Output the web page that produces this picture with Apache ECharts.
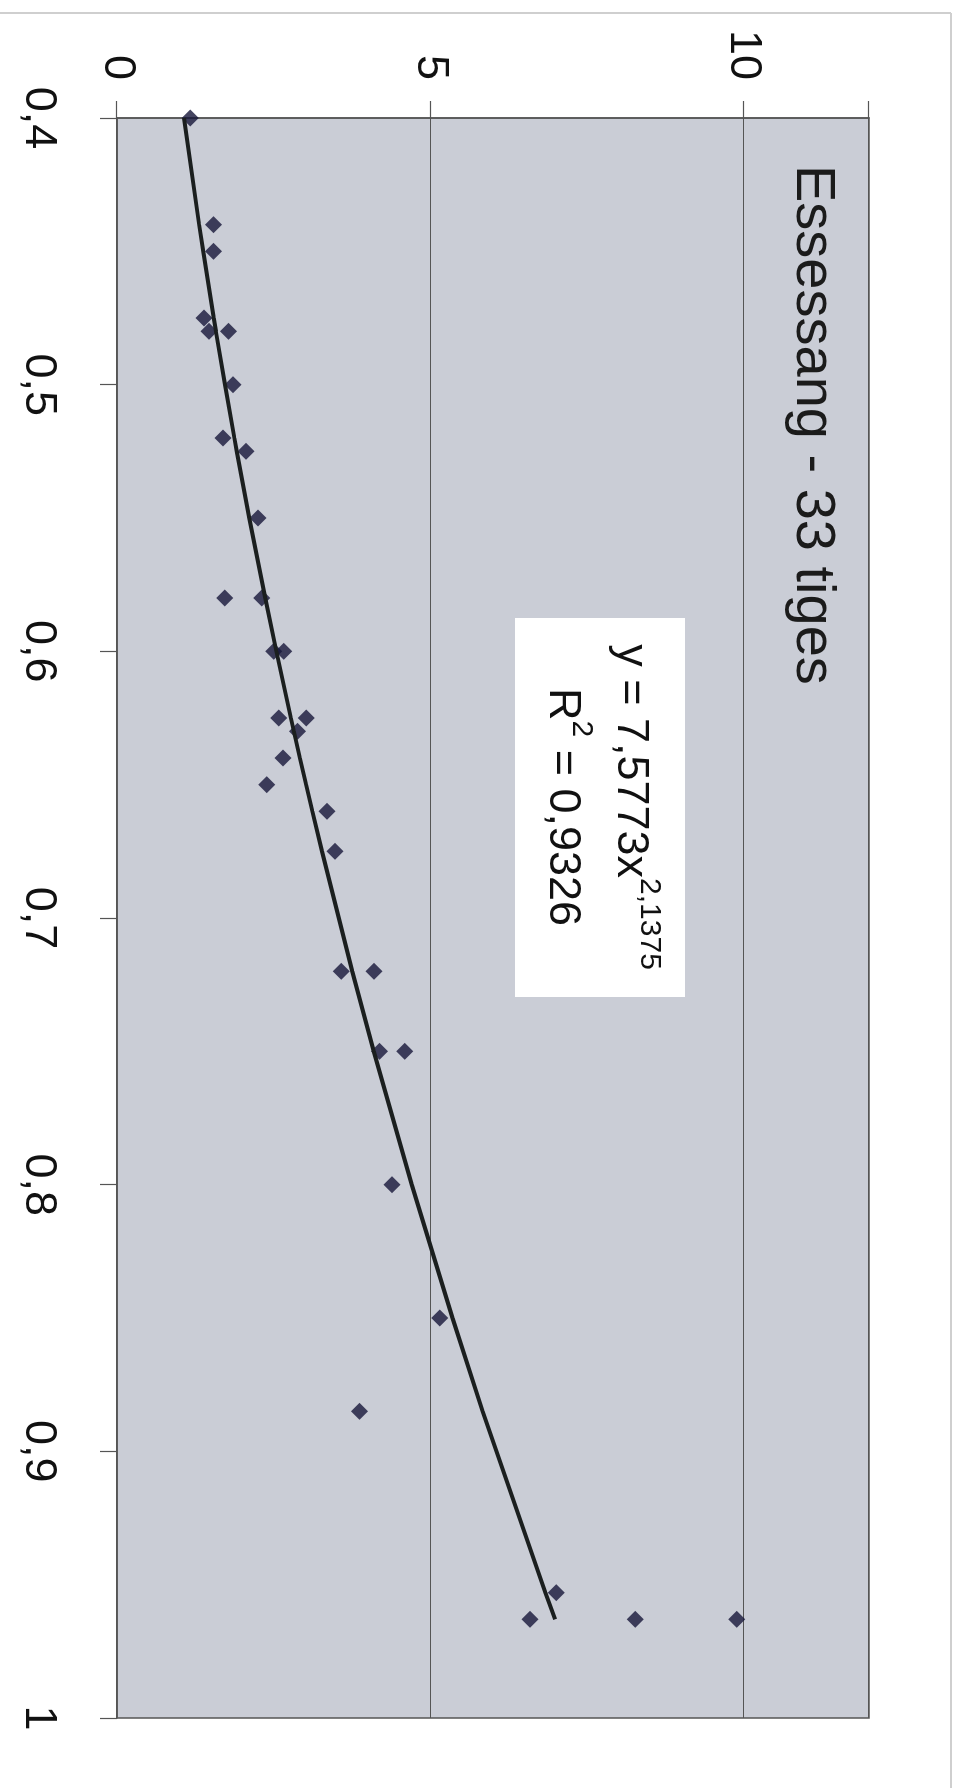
<!DOCTYPE html>
<html>
<head>
<meta charset="utf-8">
<script src="https://cdn.jsdelivr.net/npm/echarts@6/dist/echarts.min.js"></script>
<style>
  html, body { margin: 0; padding: 0; background: #fff; overflow: hidden; }
  #wrap { position: relative; width: 961px; height: 1788px; overflow: hidden; background: #fff; }
  #chart { position: absolute; left: 0; top: 0; width: 1788px; height: 961px;
           transform-origin: 0 0; transform: translateX(961px) rotate(90deg); }
</style>
</head>
<body>
<div id="wrap"><div id="chart"></div></div>
<script>
// ---- data ----
const titleText = 'Essessang - 33 tiges';
const diameters = [0.400, 0.440, 0.450, 0.475, 0.480, 0.480, 0.500, 0.520, 0.525, 0.550,
                   0.580, 0.580, 0.600, 0.600, 0.625, 0.625, 0.630, 0.640, 0.650, 0.660,
                   0.675, 0.720, 0.720, 0.750, 0.750, 0.800, 0.850, 0.885, 0.953, 0.963,
                   0.963, 0.963];
const volumes   = [1.17, 1.54, 1.54, 1.39, 1.47, 1.78, 1.85, 1.69, 2.06, 2.25,
                   1.72, 2.31, 2.50, 2.66, 2.58, 3.02, 2.88, 2.65, 2.39, 3.35,
                   3.48, 3.58, 4.10, 4.19, 4.59, 4.39, 5.15, 3.87, 7.01, 6.59,
                   8.27, 9.89];
// power trendline as printed on the chart: y = 7,5773 x^2,1375
const trendCoef = 7.5773;
const trendExp = 2.1375;
const eqLine1 = 'y = 7,5773x';
const eqExp1 = '2,1375';
const eqLine2a = 'R';
const eqExp2 = '2';
const eqLine2b = ' = 0,9326';
const xTickMin = 0.4, xTickMax = 1, xTickStep = 0.1;
const yTickMin = 0, yTickMax = 12, yTickStep = 5;

const scatterData = diameters.map((d, i) => [d, volumes[i]]);
const trendX = Array.from(new Set(diameters)).sort((a, b) => a - b);
const trendData = trendX.map(x => [x, trendCoef * Math.pow(x, trendExp)]);

const FONT = '"Liberation Sans", Arial, sans-serif';
const fmtX = v => {
  const r = Math.round(v * 10) / 10;
  return String(r).replace('.', ',');
};

const chart = echarts.init(document.getElementById('chart'), null, { renderer: 'canvas', width: 1788, height: 961 });
chart.setOption({
  backgroundColor: '#ffffff',
  animation: false,
  title: {
    text: titleText,
    left: 160, top: 116,
    textStyle: { fontFamily: FONT, fontSize: 56, fontWeight: 'normal', color: '#1b1b1b' }
  },
  grid: {
    left: 118, top: 92, width: 1600, height: 752,
    show: true, backgroundColor: '#cacdd6', borderColor: '#555', borderWidth: 1.5
  },
  xAxis: {
    type: 'value', min: xTickMin, max: xTickMax, interval: xTickStep,
    axisLine: { show: true, onZero: false, lineStyle: { color: '#555', width: 1.5 } },
    axisTick: { show: true, inside: false, length: 17, lineStyle: { color: '#555', width: 1.2 } },
    splitLine: { show: false },
    axisLabel: { fontFamily: FONT, fontSize: 45, color: '#111', margin: 56, formatter: fmtX }
  },
  yAxis: {
    type: 'value', min: yTickMin, max: yTickMax, interval: yTickStep,
    axisLine: { show: true, lineStyle: { color: '#555', width: 1.5 } },
    axisTick: { show: true, inside: false, length: 17, lineStyle: { color: '#555', width: 1.2 } },
    splitLine: { show: true, lineStyle: { color: '#555', width: 1.2 } },
    axisLabel: { fontFamily: FONT, fontSize: 45, color: '#111', margin: 38,
                 formatter: v => (v % yTickStep === 0 ? String(v) : '') }
  },
  series: [
    {
      type: 'scatter', data: scatterData, symbol: 'diamond', symbolSize: 17,
      itemStyle: { color: '#16163a' }, z: 2
    },
    {
      type: 'line', data: trendData, showSymbol: false, symbol: 'none', smooth: false,
      lineStyle: { color: '#1b1f1f', width: 4 }, z: 3
    }
  ],
  graphic: [
    { type: 'line', shape: { x1: 13, y1: 10, x2: 13, y2: 961 }, style: { stroke: '#cfcfcf', lineWidth: 2 } },
    { type: 'line', shape: { x1: 13, y1: 10, x2: 1788, y2: 10 }, style: { stroke: '#cfcfcf', lineWidth: 2 } },
    { type: 'rect', shape: { x: 618, y: 276, width: 379, height: 170 }, style: { fill: '#ffffff' }, z: 10 },
    {
      type: 'text', x: 807, y: 297, z: 11,
      style: {
        text: '{m|' + eqLine1 + '}{s|' + eqExp1 + '}\n{m|' + eqLine2a + '}{s|' + eqExp2 + '}{m|' + eqLine2b + '}',
        align: 'center', verticalAlign: 'top',
        fontFamily: FONT, fill: '#111',
        rich: {
          m: { fontFamily: FONT, fontSize: 45, lineHeight: 68, fill: '#111', color: '#111' },
          s: { fontFamily: FONT, fontSize: 30, lineHeight: 30, verticalAlign: 'top', fill: '#111', color: '#111' }
        }
      }
    }
  ]
});
</script>
</body>
</html>
